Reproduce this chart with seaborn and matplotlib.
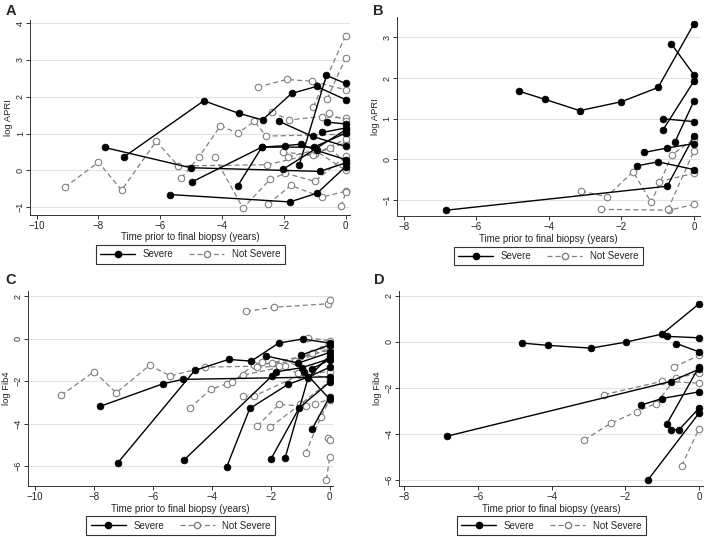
import pandas as pd
import matplotlib
matplotlib.use('Agg')
import matplotlib.pyplot as plt
from matplotlib.lines import Line2D
import seaborn as sns

# Panel A: log APRI, each inner list is one patient (time, value)
apri_a_severe = [
    [(-7.8, 0.62), (-5.02, 0.07), (-0.84, -0.03), (0, 0.2)],
    [(-7.18, 0.36), (-4.59, 1.89), (-3.46, 1.55), (-2.69, 1.37), (-1.75, 2.09), (-0.94, 2.28), (0, 1.92)],
    [(-1.5, 0.15), (-0.62, 2.58), (0, 2.36)],
    [(-2.15, 1.33), (-1.07, 0.92), (0, 0.65)],
    [(-0.6, 1.31), (0, 1.26)],
    [(-4.96, -0.31), (-2.71, 0.63), (-1.96, 0.67), (-1.45, 0.71), (-0.94, 0.54), (0, 0.29)],
    [(-3.49, -0.42), (-2.71, 0.63), (-1.03, 0.63), (0, 1.01)],
    [(-0.75, 1.03), (0, 1.15)],
    [(-2.02, 0.03), (0, 1.1)],
    [(-5.68, -0.66), (-1.8, -0.86), (-0.92, -0.62), (0, 0.1)],
]
apri_a_not_severe = [
    [(-9.09, -0.46), (-8.0, 0.22), (-7.25, -0.54), (-6.13, 0.79), (-5.42, 0.12), (-2.55, 0.15), (-1.0, 0.45), (0, 0.75)],
    [(-5.32, -0.21), (-4.75, 0.36), (-4.05, 1.21), (-3.49, 1.01), (-2.95, 1.33), (-2.58, 0.93), (0, 0.98)],
    [(-4.24, 0.36), (-3.32, -1.03), (-2.45, -0.25), (-1.95, -0.08), (-1.0, -0.3), (0, 0.38)],
    [(-2.85, 2.26), (-1.91, 2.47), (-1.08, 2.42), (0, 2.19)],
    [(-1.05, 1.72), (0, 3.66)],
    [(-0.6, 1.94), (0, 3.05)],
    [(-2.39, 1.58), (-1.82, 1.37), (-0.78, 1.46), (0, 1.42)],
    [(-2.5, -0.91), (-1.77, -0.41), (-0.78, -0.73), (0, -0.57)],
    [(-0.14, -0.98), (0, -0.6)],
    [(-2.04, 0.49), (-1.05, 0.42), (0, 0.85)],
    [(-1.85, 0.36), (-1.0, 0.55), (0, 0.0)],
    [(-0.55, 1.55), (0, 1.35)],
    [(-0.5, 0.6), (0, 0.2)],
]

# Panel B: log APRI
apri_b_severe = [
    [(-4.83, 1.68), (-4.12, 1.48), (-3.15, 1.2), (-2.0, 1.42), (-0.99, 1.77), (0, 3.34)],
    [(-0.63, 2.85), (0, 2.08)],
    [(-0.86, 0.72), (0, 1.93)],
    [(-0.86, 1.0), (0, 0.93)],
    [(-0.53, 0.42), (0, 1.44)],
    [(-1.38, 0.17), (-0.74, 0.28), (0, 0.39)],
    [(-1.58, -0.16), (-0.99, -0.06), (0, -0.25)],
    [(-6.83, -1.25), (-0.74, -0.66), (0, 0.57)],
]
apri_b_not_severe = [
    [(-3.11, -0.78), (-2.41, -0.92), (-1.68, -0.3), (-1.18, -1.06), (-0.6, 0.12), (0, 0.5)],
    [(-0.97, -0.55), (0, -0.34)],
    [(-2.57, -1.23), (-0.69, -1.25), (0, -1.11)],
    [(-0.72, -1.23), (0, 0.21)],
]

# Panel C: log Fib4
fib4_c_severe = [
    [(-7.79, -3.19), (-5.66, -2.13), (-4.99, -1.92), (0, -1.8)],
    [(-7.18, -5.84), (-4.58, -1.5), (-3.43, -0.98), (-2.66, -1.06), (-1.73, -0.21), (-0.92, -0.02), (0, -0.21)],
    [(-4.95, -5.73), (-1.96, -1.76), (-1.81, -1.56), (-0.95, -1.37), (0, -0.95)],
    [(-3.49, -6.03), (-2.71, -3.29), (-1.42, -2.16), (-0.73, -1.81), (0, -1.35)],
    [(-2.0, -5.69), (-1.03, -3.25), (0, -2.05)],
    [(-1.51, -5.61), (-0.73, -1.84), (0, -0.8)],
    [(-0.59, -4.24), (0, -2.74)],
    [(-2.15, -0.82), (-1.06, -1.15), (0, -0.65)],
    [(-0.98, -0.78), (0, -0.3)],
    [(-0.61, -1.42), (0, -1.0)],
    [(-0.86, -1.56), (0, -2.85)],
]
fib4_c_not_severe = [
    [(-9.11, -2.67), (-7.99, -1.56), (-7.24, -2.55), (-6.11, -1.26), (-5.4, -1.76), (-4.23, -1.34), (-2.5, -1.3), (0, -0.55)],
    [(-2.83, 1.28), (-1.88, 1.48), (-0.06, 1.64), (0, 1.81)],
    [(-4.75, -3.29), (-4.04, -2.39), (-3.49, -2.13), (-2.93, -1.72), (-1.5, -1.3), (0, -0.45)],
    [(-3.32, -2.06), (-2.57, -1.23), (-1.96, -1.15), (-1.17, -1.07), (0, -0.3)],
    [(-2.46, -1.34), (-1.73, -1.31), (-0.61, -0.68), (0, -0.15)],
    [(-2.93, -2.71), (-2.57, -2.71), (-1.0, -1.7), (0, -1.55)],
    [(-2.46, -4.12), (-1.73, -3.1), (-0.82, -3.18), (-0.5, -3.07), (0, -2.86)],
    [(-2.01, -4.16), (-1.0, -3.1), (0, -2.0)],
    [(-0.82, -5.4), (-0.3, -3.69), (0, -2.9)],
    [(-0.06, -4.67), (0, -4.79)],
    [(-0.11, -6.64), (0, -5.58)],
    [(-0.75, 0.04), (0, -0.1)],
    [(-2.29, -1.12), (-1.06, -1.62), (0, -1.85)],
]

# Panel D: log Fib4
fib4_d_severe = [
    [(-4.8, -0.06), (-4.1, -0.16), (-2.93, -0.28), (-1.99, -0.02), (-1.0, 0.33), (0, 1.64)],
    [(-0.86, 0.23), (0, 0.17)],
    [(-0.61, -0.08), (0, -0.44)],
    [(-6.85, -4.11), (-0.77, -1.73), (0, -1.2)],
    [(-1.58, -2.76), (-1.0, -2.47), (0, -2.18)],
    [(-0.87, -3.57), (0, -1.1)],
    [(-0.77, -3.83), (-0.54, -3.83), (0, -2.89)],
    [(-1.38, -6.0), (0, -3.11)],
]
fib4_d_not_severe = [
    [(-3.11, -4.27), (-2.39, -3.54), (-1.69, -3.04), (-1.17, -2.69), (-0.61, -1.56), (0, -1.38)],
    [(-2.57, -2.3), (-1.0, -1.72), (0, -1.8)],
    [(-0.68, -1.1), (0, -0.6)],
    [(-0.47, -5.39), (0, -3.8)],
]

panel_letters = ['A', 'B', 'C', 'D']
y_labels = ['log APRI', 'log APRI', 'log Fib4', 'log Fib4']
x_label = 'Time prior to final biopsy (years)'
legend_labels = ['Severe', 'Not Severe']


def to_frame(trajs):
    rows = []
    for i, tr in enumerate(trajs):
        for t, v in tr:
            rows.append({'id': i, 't': t, 'v': v})
    return pd.DataFrame(rows)


sns.set_theme(style='white')
plt.rcParams['font.family'] = ['Liberation Sans', 'DejaVu Sans']

fig = plt.figure(figsize=(7.09, 5.37), dpi=100)

# axes rectangles in figure fraction
rects = [
    [0.043, 0.600, 0.451, 0.363],
    [0.560, 0.598, 0.427, 0.370],
    [0.040, 0.095, 0.430, 0.363],
    [0.563, 0.095, 0.429, 0.363],
]
xlims = [(-10.2, 0.15), (-8.19, 0.16), (-10.22, 0.12), (-8.14, 0.12)]
ylims = [(-1.21, 4.09), (-1.39, 3.5), (-6.94, 2.24), (-6.27, 2.2)]
xticks = [[-10, -8, -6, -4, -2, 0], [-8, -6, -4, -2, 0], [-10, -8, -6, -4, -2, 0], [-8, -6, -4, -2, 0]]
yticks = [[-1, 0, 1, 2, 3, 4], [-1, 0, 1, 2, 3], [-6, -4, -2, 0, 2], [-6, -4, -2, 0, 2]]
letter_pos = [(0.008, 0.992), (0.526, 0.992), (0.008, 0.492), (0.528, 0.492)]

data_sets = [
    (apri_a_severe, apri_a_not_severe),
    (apri_b_severe, apri_b_not_severe),
    (fib4_c_severe, fib4_c_not_severe),
    (fib4_d_severe, fib4_d_not_severe),
]

grey = '#808080'
dash = (0, (4, 2.5))

for k in range(4):
    ax = fig.add_axes(rects[k])
    sev = to_frame(data_sets[k][0])
    nsev = to_frame(data_sets[k][1])

    for y in yticks[k]:
        ax.axhline(y, color='#e3e3e3', lw=0.8, zorder=0)

    sns.lineplot(data=nsev, x='t', y='v', units='id', estimator=None, color=grey,
                 lw=0.9, linestyle=dash, ax=ax, legend=False, zorder=2)
    sns.scatterplot(data=nsev, x='t', y='v', color='white', edgecolor=grey,
                    linewidth=0.8, s=22, ax=ax, legend=False, zorder=3)
    sns.lineplot(data=sev, x='t', y='v', units='id', estimator=None, color='black',
                 lw=1.0, ax=ax, legend=False, zorder=4)
    sns.scatterplot(data=sev, x='t', y='v', color='black', edgecolor='black',
                    linewidth=0.5, s=24, ax=ax, legend=False, zorder=5)

    ax.set_xlim(*xlims[k])
    ax.set_ylim(*ylims[k])
    ax.set_xticks(xticks[k])
    ax.set_yticks(yticks[k])
    ax.tick_params(axis='x', direction='out', length=3, width=0.7,
                   color='#333333', labelsize=7, pad=1.5, bottom=True)
    ax.tick_params(axis='y', direction='out', length=3, width=0.7,
                   color='#333333', labelsize=6.5, pad=1, left=True)
    plt.setp(ax.get_yticklabels(), rotation=90, va='center')
    ax.set_xlabel(x_label, fontsize=7, labelpad=1)
    ax.set_ylabel(y_labels[k], fontsize=6.8, labelpad=2)
    for side in ['top', 'right']:
        ax.spines[side].set_visible(False)
    for side in ['left', 'bottom']:
        ax.spines[side].set_color('#333333')
        ax.spines[side].set_linewidth(0.7)

    handles = [
        Line2D([0], [0], color='black', lw=1.0, marker='o', markersize=4.5,
               markerfacecolor='black', markeredgecolor='black'),
        Line2D([0], [0], color=grey, lw=0.9, linestyle=dash, marker='o', markersize=4.5,
               markerfacecolor='white', markeredgecolor=grey),
    ]
    leg = ax.legend(handles, legend_labels, loc='upper center', bbox_to_anchor=(0.5, -0.13),
                    ncol=2, fontsize=7, frameon=True, fancybox=False, handlelength=3.6,
                    columnspacing=1.6, borderpad=0.45, handletextpad=0.8)
    leg.get_frame().set_edgecolor('black')
    leg.get_frame().set_linewidth(0.8)

    fig.text(letter_pos[k][0], letter_pos[k][1], panel_letters[k], fontsize=10.5,
             fontweight='bold', va='top', ha='left')

fig.savefig('out.png', dpi=100, facecolor='white')
